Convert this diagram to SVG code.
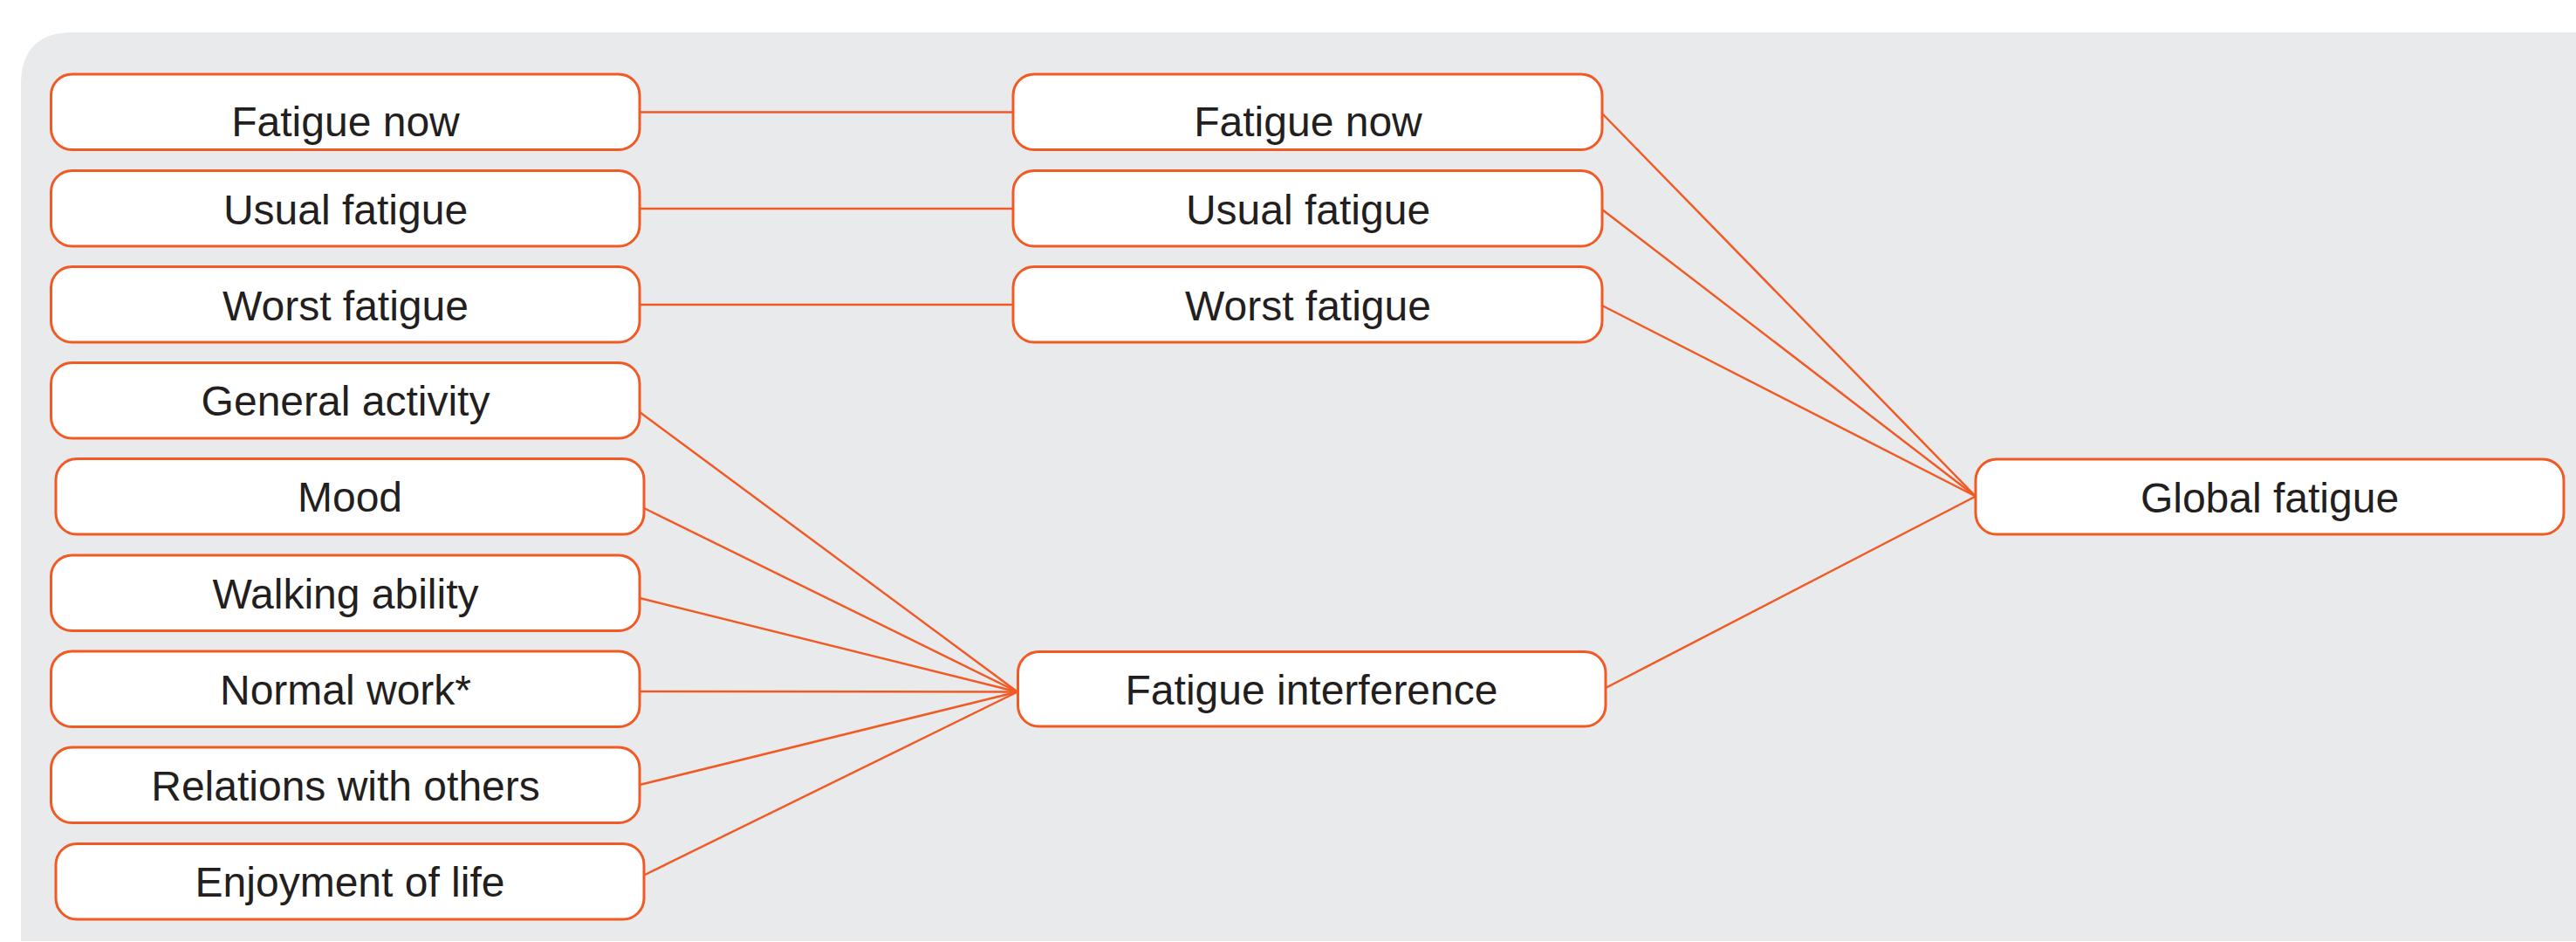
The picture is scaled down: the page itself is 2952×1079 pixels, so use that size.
<svg xmlns="http://www.w3.org/2000/svg" width="2952" height="1079" viewBox="0 0 2952 1079">
<style>
.box{fill:#ffffff;stroke:#f15a24;stroke-width:3}
.lbl{font-family:"Liberation Sans",Arial,sans-serif;font-size:48px;fill:#231f20;text-anchor:middle}
.con{stroke:#f15a24;stroke-width:2.5;fill:none}
</style>
<rect width="2952" height="1079" fill="#ffffff"/>
<path d="M24,1078 L24,97 Q24,37 84,37 L2952,37 L2952,1078 Z" fill="#e9eaec"/>
<g id="connectors">
<line class="con" x1="733" y1="128.5" x2="1161" y2="128.5"/>
<line class="con" x1="733" y1="239" x2="1161" y2="239"/>
<line class="con" x1="733" y1="349" x2="1161" y2="349"/>
<line class="con" x1="1836" y1="130" x2="2264" y2="568.5"/>
<line class="con" x1="1836" y1="240" x2="2264" y2="568.5"/>
<line class="con" x1="1836" y1="350" x2="2264" y2="568.5"/>
<line class="con" x1="1840" y1="788" x2="2264" y2="568.5"/>
<line class="con" x1="733" y1="472" x2="1166" y2="792.5"/>
<line class="con" x1="738" y1="582" x2="1166" y2="792.5"/>
<line class="con" x1="733" y1="685" x2="1166" y2="792.5"/>
<line class="con" x1="733" y1="792" x2="1166" y2="792.5"/>
<line class="con" x1="733" y1="899" x2="1166" y2="792.5"/>
<line class="con" x1="738" y1="1002.5" x2="1166" y2="792.5"/>
</g>
<g id="l1"><rect class="box" x="58.5" y="85" width="674.5" height="86.5" rx="24"/><text class="lbl" x="396" y="156">Fatigue now</text></g>
<g id="l2"><rect class="box" x="58.5" y="195.5" width="674.5" height="86.5" rx="24"/><text class="lbl" x="396" y="256.5">Usual fatigue</text></g>
<g id="l3"><rect class="box" x="58.5" y="305.5" width="674.5" height="86.5" rx="24"/><text class="lbl" x="396" y="366.5">Worst fatigue</text></g>
<g id="l4"><rect class="box" x="58.5" y="415.5" width="674.5" height="86.5" rx="24"/><text class="lbl" x="396" y="476">General activity</text></g>
<g id="l5"><rect class="box" x="64" y="525.5" width="674" height="86.5" rx="24"/><text class="lbl" x="401" y="586">Mood</text></g>
<g id="l6"><rect class="box" x="58.5" y="636" width="674.5" height="86.5" rx="24"/><text class="lbl" x="396" y="697">Walking ability</text></g>
<g id="l7"><rect class="box" x="58.5" y="746" width="674.5" height="86.5" rx="24"/><text class="lbl" x="396" y="807">Normal work*</text></g>
<g id="l8"><rect class="box" x="58.5" y="856" width="674.5" height="86.5" rx="24"/><text class="lbl" x="396" y="917">Relations with others</text></g>
<g id="l9"><rect class="box" x="64" y="966.5" width="674" height="86.5" rx="24"/><text class="lbl" x="401" y="1027">Enjoyment of life</text></g>
<g id="m1"><rect class="box" x="1161" y="85" width="675" height="86.5" rx="24"/><text class="lbl" x="1499" y="156">Fatigue now</text></g>
<g id="m2"><rect class="box" x="1161" y="195.5" width="675" height="86.5" rx="24"/><text class="lbl" x="1499" y="256.5">Usual fatigue</text></g>
<g id="m3"><rect class="box" x="1161" y="305.5" width="675" height="86.5" rx="24"/><text class="lbl" x="1499" y="366.5">Worst fatigue</text></g>
<g id="interference"><rect class="box" x="1166.5" y="746.5" width="673.5" height="85.5" rx="24"/><text class="lbl" x="1503" y="807">Fatigue interference</text></g>
<g id="global"><rect class="box" x="2264" y="526" width="674" height="86" rx="24"/><text class="lbl" x="2601" y="587">Global fatigue</text></g>
</svg>
